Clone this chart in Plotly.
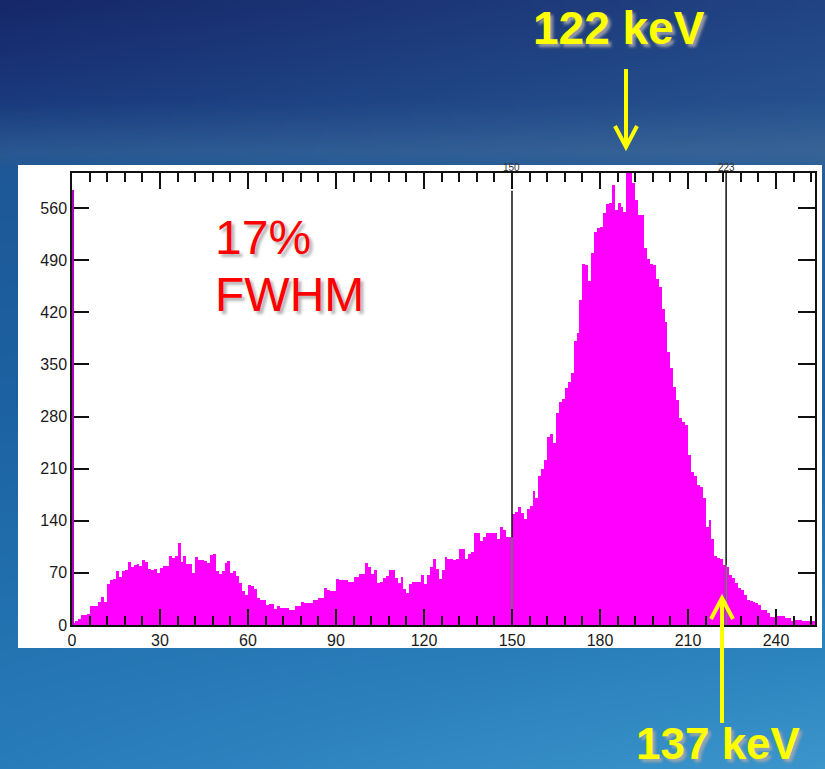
import base64
import struct
import zlib

import numpy as np
import plotly.graph_objects as go

# Canvas and plot-area geometry (pixels)
W, H = 825, 769
PLOT_L, PLOT_R, PLOT_T, PLOT_B = 72, 815, 173, 625

# ---- spectrum data -------------------------------------------------------
channels = list(range(254))
counts = [
    3, 5, 8, 13, 13, 15, 25, 26, 26, 31,
    38, 31, 55, 60, 62, 72, 65, 72, 74, 84,
    78, 80, 82, 79, 87, 85, 75, 74, 75, 70,
    76, 79, 79, 92, 90, 92, 110, 85, 92, 82,
    82, 70, 91, 87, 87, 86, 83, 94, 95, 72,
    69, 72, 83, 86, 70, 72, 66, 57, 45, 40,
    54, 52, 49, 36, 33, 33, 27, 28, 28, 22,
    25, 23, 23, 23, 20, 20, 25, 25, 31, 29,
    29, 29, 33, 33, 36, 36, 50, 47, 45, 45,
    62, 61, 60, 60, 58, 58, 64, 64, 68, 68,
    83, 78, 69, 74, 56, 58, 63, 66, 74, 74,
    63, 57, 65, 49, 43, 55, 58, 58, 58, 67,
    55, 67, 78, 88, 75, 62, 74, 91, 89, 88,
    87, 89, 102, 102, 89, 96, 98, 123, 123, 113,
    118, 124, 124, 124, 124, 116, 131, 127, 118, 118,
    149, 152, 158, 150, 142, 156, 160, 180, 170, 200,
    210, 221, 253, 256, 244, 285, 300, 304, 318, 326,
    338, 381, 392, 437, 485, 483, 462, 499, 528, 533,
    535, 553, 566, 567, 591, 557, 567, 562, 555, 615,
    615, 593, 571, 550, 550, 506, 492, 485, 483, 465,
    454, 425, 407, 367, 345, 320, 302, 278, 272, 268,
    228, 205, 200, 188, 186, 170, 132, 141, 115, 92,
    90, 89, 81, 78, 67, 63, 56, 50, 47, 40,
    34, 32, 31, 30, 27, 20, 20, 16, 11, 11,
    12, 12, 12, 10, 10, 6, 7, 7, 7, 5,
    5, 5, 5, 5,
]
overflow_channel = [0]
overflow_count = [584]

cursor_channels = [150, 223]
cursor_tops = [583, 607]

x_ticks = list(range(0, 241, 30))
y_ticks = list(range(0, 561, 70))
x_range = [0, 253.3]
y_range = [0, 607]


# ---- helpers ---------------------------------------------------------------
def px(x):
    return (x - PLOT_L) / (PLOT_R - PLOT_L)


def py(y):
    return (PLOT_B - y) / (PLOT_B - PLOT_T)


def png_data_uri(arr):
    h, w, _ = arr.shape
    raw = b"".join(b"\x00" + arr[r].tobytes() for r in range(h))

    def chunk(tag, data):
        c = struct.pack(">I", len(data)) + tag + data
        return c + struct.pack(">I", zlib.crc32(tag + data) & 0xFFFFFFFF)

    png = b"\x89PNG\r\n\x1a\n"
    png += chunk(b"IHDR", struct.pack(">IIBBBBB", w, h, 8, 2, 0, 0, 0))
    png += chunk(b"IDAT", zlib.compress(raw, 9))
    png += chunk(b"IEND", b"")
    return "data:image/png;base64," + base64.b64encode(png).decode()


def slide_background(w=206, h=192):
    ys = np.linspace(0, H, h)
    xs = np.linspace(0, 1, w)
    stops = [0, 100, 150, 172, 400, 650, 769]
    left = np.array([[22, 40, 105], [26, 58, 125], [42, 88, 145], [30, 88, 152],
                     [28, 98, 162], [36, 116, 178], [40, 124, 186]], float)
    right = np.array([[34, 68, 132], [38, 82, 142], [56, 100, 152], [42, 96, 152],
                      [32, 98, 160], [44, 132, 190], [60, 150, 204]], float)
    L = np.stack([np.interp(ys, stops, left[:, k]) for k in range(3)], axis=1)
    R = np.stack([np.interp(ys, stops, right[:, k]) for k in range(3)], axis=1)
    img = L[:, None, :] * (1 - xs[None, :, None]) + R[:, None, :] * xs[None, :, None]
    return np.clip(img, 0, 255).astype(np.uint8)


# ---- figure ----------------------------------------------------------------
fig = go.Figure()

fig.add_trace(go.Bar(
    x=channels, y=counts, width=1, offset=0,
    marker=dict(color="#ff00ff", line=dict(width=0)),
    hoverinfo="x+y", showlegend=False,
))
fig.add_trace(go.Bar(
    x=overflow_channel, y=overflow_count, width=0.6, offset=0,
    marker=dict(color="#b000c0", line=dict(width=0)),
    hoverinfo="skip", showlegend=False,
))

# region-of-interest cursors: black over the empty area, grey over the bars
for ch, top in zip(cursor_channels, cursor_tops):
    fig.add_trace(go.Scatter(
        x=[ch, ch], y=[0, top], mode="lines",
        line=dict(color="#111111", width=1.5),
        hoverinfo="skip", showlegend=False,
    ))
    fig.add_trace(go.Scatter(
        x=[ch, ch], y=[0, counts[ch - 1]], mode="lines",
        line=dict(color="#8a8a8a", width=1.5),
        hoverinfo="skip", showlegend=False,
    ))

axis_font = dict(family="Liberation Sans, Arial, sans-serif", size=16, color="#1a1a1a")

fig.update_xaxes(
    range=x_range, tickvals=x_ticks, ticks="inside", ticklen=16, tickwidth=1.5,
    tickcolor="#111111", showline=True, linecolor="#111111", linewidth=1.5,
    mirror="ticks", showgrid=False, zeroline=False, tickfont=axis_font,
    minor=dict(dtick=6, tick0=0, ticks="inside", ticklen=9, tickwidth=1.5,
               tickcolor="#111111", showgrid=False),
    fixedrange=True,
)
fig.update_yaxes(
    range=y_range, tickvals=y_ticks, ticks="inside", ticklen=17, tickwidth=1.5,
    tickcolor="#111111", showline=True, linecolor="#111111", linewidth=1.5,
    mirror="ticks", showgrid=False, zeroline=False, tickfont=axis_font,
    layer="below traces", fixedrange=True,
)

shapes = [
    # white panel behind the spectrum window
    dict(type="rect", xref="paper", yref="paper", layer="below",
         x0=px(18), x1=px(822), y0=py(648), y1=py(165),
         fillcolor="white", line=dict(width=0)),
]

yellow = "#ffff00"
arrow_w = 4
# 122 keV arrow (pointing down at the photopeak)
shapes.append(dict(type="line", xref="paper", yref="paper",
                   x0=px(626), x1=px(626), y0=py(69), y1=py(145),
                   line=dict(color=yellow, width=arrow_w)))
shapes.append(dict(type="path", xref="paper", yref="paper",
                   path=f"M {px(615)} {py(126)} L {px(626)} {py(147)} L {px(637)} {py(126)}",
                   line=dict(color=yellow, width=arrow_w)))
# 137 keV arrow (pointing up at the upper window edge)
shapes.append(dict(type="line", xref="paper", yref="paper",
                   x0=px(722), x1=px(722), y0=py(723), y1=py(600),
                   line=dict(color=yellow, width=arrow_w)))
shapes.append(dict(type="path", xref="paper", yref="paper",
                   path=f"M {px(711)} {py(619)} L {px(722)} {py(598)} L {px(733)} {py(619)}",
                   line=dict(color=yellow, width=arrow_w)))

red_font = dict(family="Liberation Sans, Arial, sans-serif", size=48, color="#ff0000",
                shadow="3px 3px 3px rgba(0,0,0,0.30)")
kev_font = dict(family="Liberation Sans, Arial, sans-serif", size=46, color=yellow,
                weight="bold", shadow="3px 3px 3px rgba(170,170,170,0.85)")
kev_font_low = dict(kev_font, size=44)
small_font = dict(family="Liberation Sans, Arial, sans-serif", size=10, color="#333333")

annotations = [
    dict(text="17%", xref="paper", yref="paper", x=px(213), y=py(237.5),
         xanchor="left", yanchor="middle", showarrow=False, font=red_font),
    dict(text="FWHM", xref="paper", yref="paper", x=px(213), y=py(294.5),
         xanchor="left", yanchor="middle", showarrow=False, font=red_font),
    dict(text="122 keV", xref="paper", yref="paper", x=px(619), y=py(28),
         xanchor="center", yanchor="middle", showarrow=False, font=kev_font),
    dict(text="137 keV", xref="paper", yref="paper", x=px(718), y=py(743),
         xanchor="center", yanchor="middle", showarrow=False, font=kev_font_low),
]
for ch in cursor_channels:
    annotations.append(dict(text=str(ch), xref="x", yref="paper", x=ch, y=py(167),
                            xanchor="center", yanchor="middle", showarrow=False,
                            font=small_font))

fig.update_layout(
    width=W, height=H, autosize=False,
    margin=dict(l=PLOT_L, r=W - PLOT_R, t=PLOT_T, b=H - PLOT_B, autoexpand=False),
    paper_bgcolor="#1f5a9c", plot_bgcolor="white",
    bargap=0, barmode="overlay",
    shapes=shapes, annotations=annotations,
    images=[dict(source=png_data_uri(slide_background()), xref="paper", yref="paper",
                 x=px(0), y=py(0), sizex=px(W) - px(0), sizey=py(0) - py(H),
                 xanchor="left", yanchor="top", sizing="stretch", layer="below")],
)

fig.write_html("out.html")
